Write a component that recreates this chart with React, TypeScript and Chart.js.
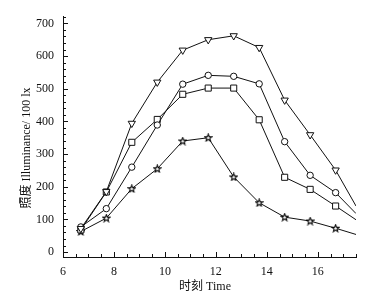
import { useEffect, useRef } from 'react';
import { Chart, registerables } from 'chart.js';
Chart.register(...registerables);

const times = [6.7, 7.7, 8.7, 9.7, 10.7, 11.7, 12.7, 13.7, 14.7, 15.7, 16.7, 17.5];
const seriesTriangle = [72, 185, 394, 520, 618, 650, 662, 626, 465, 359, 251, 141];
const seriesCircle = [77, 133, 260, 389, 514, 541, 538, 515, 338, 235, 182, 118];
const seriesSquare = [68, 184, 336, 406, 483, 502, 502, 405, 229, 192, 141, 99];
const seriesStar = [63, 104, 194, 255, 340, 350, 230, 151, 107, 95, 73, 54];
const xTickLabels = [6, 8, 10, 12, 14, 16];
const yTickLabels = [0, 100, 200, 300, 400, 500, 600, 700];
const xTitle = '时刻 Time';
const yTitle = '照度 Illuminance/ 100 lx';

const SERIF = "'Liberation Serif', 'Times New Roman', 'Noto Sans CJK SC', serif";
const INK = '#111';

function makeStar(): HTMLCanvasElement {
  const c = document.createElement('canvas');
  c.width = 9;
  c.height = 9;
  const ctx = c.getContext('2d')!;
  const cx = 4.5, cy = 4.7, R = 3.7, r = 1.6;
  ctx.beginPath();
  for (let i = 0; i < 10; i++) {
    const rad = (Math.PI / 5) * i - Math.PI / 2;
    const rr = i % 2 === 0 ? R : r;
    const px = cx + Math.cos(rad) * rr;
    const py = cy + Math.sin(rad) * rr;
    if (i === 0) ctx.moveTo(px, py);
    else ctx.lineTo(px, py);
  }
  ctx.closePath();
  ctx.fillStyle = '#fff';
  ctx.fill();
  ctx.strokeStyle = '#000';
  ctx.lineWidth = 1.1;
  ctx.stroke();
  return c;
}

const tickPlugin = {
  id: 'innerTicks',
  afterDraw(chart: any) {
    const ctx = chart.ctx as CanvasRenderingContext2D;
    const xs = chart.scales.x;
    const ys = chart.scales.y;
    const area = chart.chartArea;
    ctx.save();
    ctx.strokeStyle = INK;
    ctx.lineWidth = 1;
    ctx.beginPath();
    for (let v = 6; v <= 17.5 + 1e-6; v += 0.5) {
      const px = Math.round(xs.getPixelForValue(v)) + 0.5;
      const len = Math.abs(v % 2) < 1e-6 ? 5 : 3;
      ctx.moveTo(px, area.bottom);
      ctx.lineTo(px, area.bottom - len);
    }
    for (let v = 0; v <= 720 + 1e-6; v += 20) {
      const py = Math.round(ys.getPixelForValue(v)) + 0.5;
      const len = v % 100 === 0 ? 5 : 3;
      ctx.moveTo(area.left, py);
      ctx.lineTo(area.left + len, py);
    }
    ctx.stroke();

    ctx.fillStyle = INK;
    ctx.font = `12px ${SERIF}`;
    ctx.textAlign = 'center';
    ctx.textBaseline = 'middle';
    ctx.fillText(xTitle, 205, 287);
    ctx.translate(26.5, 148);
    ctx.rotate(-Math.PI / 2);
    ctx.fillText(yTitle, 0, 0);
    ctx.restore();
  },
};

export default function App() {
  const ref = useRef<HTMLCanvasElement>(null);
  useEffect(() => {
    document.body.style.margin = '0';
    const star = makeStar();
    const ds = (label: string, data: number[], style: any, radius: number, rotation = 0) => ({
      label,
      data: times.map((t, i) => ({ x: t, y: data[i] })),
      borderColor: INK,
      borderWidth: 1,
      backgroundColor: '#fff',
      pointBackgroundColor: '#fff',
      pointBorderColor: INK,
      pointBorderWidth: 1,
      pointStyle: style,
      pointRotation: rotation,
      pointRadius: times.map((_, i) => (i === times.length - 1 ? 0 : radius)),
      tension: 0,
      fill: false,
    });
    const chart = new Chart(ref.current!, {
      type: 'line',
      data: {
        datasets: [
          ds('triangle', seriesTriangle, 'triangle', 4.2, 180),
          ds('circle', seriesCircle, 'circle', 3.2),
          ds('square', seriesSquare, 'rect', 4.3),
          ds('star', seriesStar, star, 5),
        ],
      },
      options: {
        animation: false,
        responsive: false,
        devicePixelRatio: 1,
        layout: { padding: { top: 13, right: 33, left: 0, bottom: 0 } },
        plugins: { legend: { display: false }, tooltip: { enabled: false } },
        scales: {
          x: {
            type: 'linear',
            min: 6,
            max: 17.5,
            grid: { display: false, drawTicks: false },
            border: { display: true, color: INK, width: 1 },
            afterBuildTicks: (s: any) => {
              s.ticks = xTickLabels.map((v) => ({ value: v }));
            },
            afterFit: (s: any) => {
              s.height = 47;
            },
            ticks: {
              color: INK,
              padding: 8,
              maxRotation: 0,
              font: { family: SERIF, size: 12 },
              callback: (v: any) => String(v),
            },
          },
          y: {
            type: 'linear',
            min: -15,
            max: 722,
            grid: { display: false, drawTicks: false },
            border: { display: true, color: INK, width: 1 },
            afterBuildTicks: (s: any) => {
              s.ticks = yTickLabels.map((v) => ({ value: v }));
            },
            afterFit: (s: any) => {
              s.width = 63;
            },
            ticks: {
              color: INK,
              padding: 9,
              font: { family: SERIF, size: 12 },
              callback: (v: any) => String(v),
            },
          },
        },
      },
      plugins: [tickPlugin],
    });
    return () => chart.destroy();
  }, []);
  return (
    <div style={{ width: 389, height: 304, background: '#fff' }}>
      <canvas ref={ref} width={389} height={304} style={{ display: 'block' }} />
    </div>
  );
}
